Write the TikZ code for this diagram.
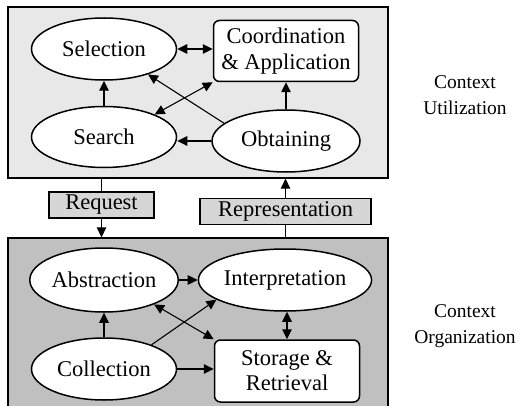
\documentclass[tikz,border=0pt]{standalone}
\usepackage{fontspec}
\setmainfont{Liberation Serif}
\usetikzlibrary{shapes.geometric,arrows.meta}
\definecolor{topfill}{HTML}{E8E8E8}
\definecolor{lowfill}{HTML}{C0C0C0}
\definecolor{labfill}{HTML}{D6D6D6}
\begin{document}
\begin{tikzpicture}[x=1pt,y=-1pt,
  every node/.style={font=\fontsize{22.5}{27}\selectfont},
  ell/.style={ellipse,draw,fill=white,line width=1.5pt,inner sep=0pt,minimum width=145pt,minimum height=62pt},
  rbox/.style={rectangle,draw,fill=white,rounded corners=6pt,line width=1.5pt,inner sep=0pt,minimum width=145pt,minimum height=61pt,align=center},
  panel/.style={rectangle,draw,line width=1.3pt,inner sep=0pt},
  lab/.style={rectangle,draw,fill=labfill,line width=1.2pt,inner sep=0pt,minimum height=26pt},
  ctx/.style={align=center,font=\fontsize{19.5}{26}\selectfont},
  arr/.style={-{Triangle[length=10pt,width=9.5pt]},line width=1.1pt},
  darr/.style={{Triangle[length=10pt,width=9.5pt]}-{Triangle[length=10pt,width=9.5pt]},line width=1.1pt},
  ln/.style={line width=1.1pt}]
\useasboundingbox (0,0) rectangle (529,406);
% panels
\node[panel,fill=topfill,minimum width=380pt,minimum height=171pt] (top) at (198,92.5) {};
\node[panel,fill=lowfill,minimum width=380pt,minimum height=172pt] (low) at (198,324) {};
% top nodes
\node[ell] (sel) at (104,49) {Selection};
\node[rbox] (coord) at (286,51) {Coordination\\[-1pt]\& Application};
\node[ell,minimum height=61pt] (search) at (104,137) {Search};
\node[ell,minimum width=148pt] (obt) at (286,141) {Obtaining};
% bottom nodes
\node[ell,minimum height=64pt] (abs) at (104,280) {Abstraction};
\node[ell,minimum width=146pt] (interp) at (285,280) {Interpretation};
\node[ell] (coll) at (104,369) {Collection};
\node[rbox,minimum height=62pt] (stor) at (287,371) {Storage \&\\[-2pt]Retrieval};
% labels
\node[lab,minimum width=105pt] (req) at (101.5,205) {Request};
\node[lab,minimum width=171pt] (rep) at (285.5,211.5) {Representation};
\node[ctx] (cu) at (465,95) {Context\\Utilization};
\node[ctx] (co) at (465,326) {Context\\Organization};
% top arrows
\draw[darr] (sel.east) -- (coord.west |- sel.east);
\draw[arr] (search.north -| sel.south) -- (sel.south);
\draw[arr] (obt.north -| coord.south) -- (coord.south);
\draw[arr] (obt.west) -- (search.east |- obt.west);
\draw[arr] (obt.164) -- (sel.-30);
\draw[darr] (search.24) -- (coord.south west);
% bottom arrows
\draw[arr] (abs.east) -- (interp.west |- abs.east);
\draw[arr] (coll.north) -- (abs.south);
\draw[arr] (coll.27) -- (interp.196);
\draw[darr] (abs.-26) -- (stor.north west);
\draw[darr] (stor.north) -- (stor.north |- interp.south);
\draw[arr] (coll.east) -- (stor.west |- coll.east);
% between panels
\draw[ln] (top.south -| req.north) -- (req.north);
\draw[arr] (req.south) -- (req.south |- low.north);
\draw[ln] (low.north -| rep.south) -- (rep.south);
\draw[arr] (rep.north) -- (rep.north |- top.south);
\end{tikzpicture}
\end{document}
